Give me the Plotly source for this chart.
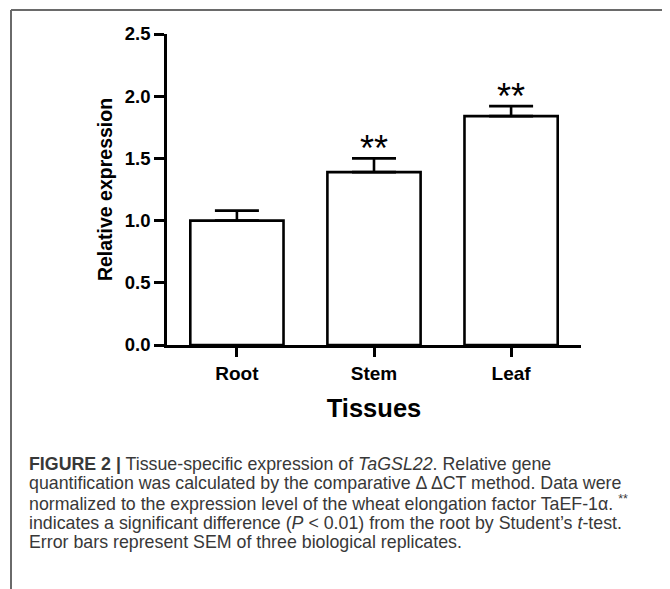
import plotly.graph_objects as go

categories = ["Root", "Stem", "Leaf"]
means = [1.0, 1.39, 1.84]
sem = [0.08, 0.11, 0.08]
signif = ["", "**", "**"]
y_ticks = [0.0, 0.5, 1.0, 1.5, 2.0, 2.5]
y_tick_labels = ["0.0", "0.5", "1.0", "1.5", "2.0", "2.5"]

caption_lines = [
    "<b>FIGURE 2 |</b> Tissue-specific expression of <i>TaGSL22</i>. Relative gene",
    "quantification was calculated by the comparative \u0394\u2009\u0394CT method. Data were",
    "normalized to the expression level of the wheat elongation factor TaEF-1\u03b1. <sup>**</sup>",
    "indicates a significant difference (<i>P</i> &lt; 0.01) from the root by Student\u2019s <i>t</i>-test.",
    "Error bars represent SEM of three biological replicates.",
]

OFF = 8  # page body margin
W, H = 670 - OFF, 589 - OFF
ML, MT = 167 - OFF, 34 - OFF
MR = W - (581 - OFF)
MB = H - (345 - OFF)
pw = W - ML - MR
ph = H - MT - MB


def px_to_paper_x(p):
    return (p - OFF - ML) / pw


def px_to_paper_y(p):
    return (H - MB - (p - OFF)) / ph


fig = go.Figure()
fig.add_trace(go.Bar(
    x=categories, y=means, width=0.68,
    marker=dict(color="white", line=dict(color="black", width=2.6)),
    error_y=dict(type="data", array=sem, arrayminus=[0, 0, 0], visible=True,
                 color="black", thickness=2.6, width=22),
    showlegend=False,
))

for c, m, s, t in zip(categories, means, sem, signif):
    if t:
        fig.add_annotation(
            x=c, y=m + s, xref="x", yref="y", text=t, showarrow=False,
            xanchor="center", yanchor="bottom", yshift=-13,
            font=dict(family="Liberation Sans", size=36, color="black"),
        )

# outer frame (top, left, right edges)
fx0, fx1 = px_to_paper_x(11), px_to_paper_x(667)
fy_top, fy_bot = px_to_paper_y(10), px_to_paper_y(600)
frame_line = dict(color="#6a6a6a", width=2)
for x0, y0, x1, y1 in [(fx0, fy_top, fx1, fy_top),
                       (fx0, fy_top, fx0, fy_bot),
                       (fx1, fy_top, fx1, fy_bot)]:
    fig.add_shape(type="line", xref="paper", yref="paper",
                  x0=x0, y0=y0, x1=x1, y1=y1, line=frame_line, layer="above")

caption_y = [464, 483.5, 503, 522.5, 542]
for line, yy in zip(caption_lines, caption_y):
    fig.add_annotation(
        text=line, xref="paper", yref="paper",
        x=px_to_paper_x(27), y=px_to_paper_y(yy),
        xanchor="left", yanchor="middle", showarrow=False,
        font=dict(family="Liberation Sans", size=17.8, color="#383838"),
    )

fig.update_layout(
    width=W, height=H,
    margin=dict(l=ML, r=MR, t=MT, b=MB, pad=0),
    paper_bgcolor="white", plot_bgcolor="white",
    font=dict(family="Liberation Sans", color="black"),
    xaxis=dict(
        range=[-0.51, 2.51], showline=True, linecolor="black", linewidth=2.6,
        ticks="outside", ticklen=9, tickwidth=2.6, tickcolor="black",
        tickfont=dict(size=19, family="Liberation Sans", weight="bold"),
        title=dict(text="<b>Tissues</b>", font=dict(size=25.5), standoff=17),
        showgrid=False, zeroline=False, fixedrange=True,
    ),
    yaxis=dict(
        range=[0, 2.5], showline=True, linecolor="black", linewidth=2.6,
        tickvals=y_ticks, ticktext=y_tick_labels,
        ticks="outside", ticklen=10, tickwidth=2.6, tickcolor="black",
        tickfont=dict(size=18.5, family="Liberation Sans", weight="bold"),
        title=dict(text="<b>Relative expression</b>", font=dict(size=19.5), standoff=7),
        showgrid=False, zeroline=False, fixedrange=True,
    ),
)

fig.write_html("out.html")
